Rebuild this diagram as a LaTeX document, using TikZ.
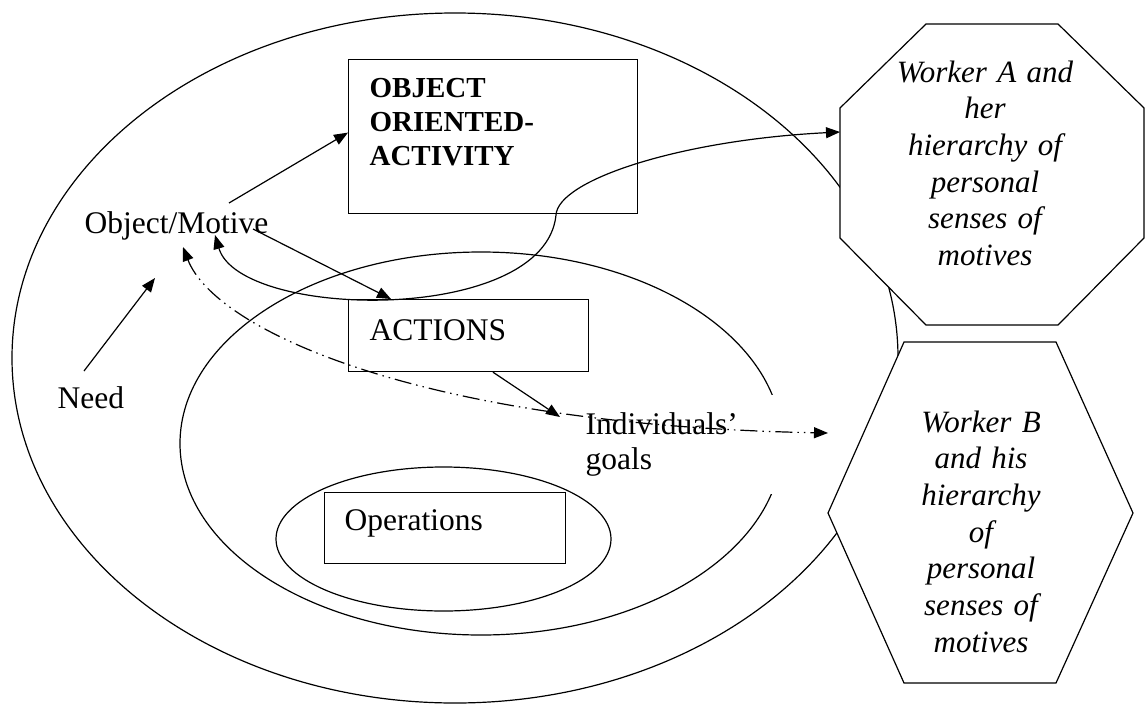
\documentclass[tikz,border=0pt]{standalone}
\usepackage{fontspec}
\setmainfont{Liberation Serif}
\usetikzlibrary{arrows.meta,calc}

\begin{document}
\begin{tikzpicture}[x=1pt, y=-1pt, line width=1.2pt,
    arr/.style={-{Triangle[length=14pt,width=11pt]}},
    twoarr/.style={{Triangle[length=14pt,width=11pt]}-{Triangle[length=14pt,width=11pt]}},
    dashdotdot/.style={dash pattern=on 17pt off 5pt on 1.5pt off 5pt on 1.5pt off 5pt},
    box/.style={draw, fill=white, inner sep=0pt, anchor=north west},
    lbl/.style={font=\fontsize{31.5}{35}\selectfont, inner sep=0pt, anchor=base west, text width=#1, align=left},
    lbl/.default=200pt,
    worker/.style={font=\fontsize{31}{36.7}\selectfont\itshape, inner sep=0pt, anchor=base, text width=230pt, align=center}]

    \useasboundingbox (0,0) rectangle (1147,704);

    % Activity levels
    \draw (455,358) ellipse [x radius=443, y radius=345];
    \draw (481,443.5) ellipse [x radius=301, y radius=191.5];
    \draw (443.5,539) ellipse [x radius=167.5, y radius=72];

    % Boxes
    \node[box, minimum width=289pt, minimum height=154pt] (oa) at (348,59) {};
    \node[lbl, font=\fontsize{29}{34}\selectfont\bfseries] (oa-txt) at (369,97) {OBJECT\\ORIENTED-\\ACTIVITY};
    \node[box, minimum width=240pt, minimum height=72pt] (act) at (348,299) {};
    \node[lbl] (act-txt) at (369,340) {ACTIONS};
    \node[box, minimum width=241pt, minimum height=71pt] (op) at (324,492) {};
    \node[lbl] (op-txt) at (344,530) {Operations};

    % Labels
    \node[lbl] (om) at (84,233) {Object/Motive};
    \node[lbl] (need) at (57,408) {Need};
    \node[lbl, fill=white, inner ysep=18pt] (ig) at (585,434.5) {Individuals'\\goals};

    % Worker A
    \draw[fill=white] (926,24) -- (1058,24) -- (1144,108) -- (1144,238) -- (1058,325) -- (926,325) -- (840,238) -- (840,108) -- cycle;
    \node[worker] (wa) at (985,82) {Worker A and\\her\\hierarchy of\\personal\\senses of\\motives};

    % Worker B
    \draw[fill=white] (904,342) -- (1056,342) -- (1133,513) -- (1056,683) -- (904,683) -- (828,513) -- cycle;
    \node[worker] (wb) at (981,432) {Worker B\\and his\\hierarchy\\of\\personal\\senses of\\motives};

    \coordinate (wa-in) at (840,132);
    \coordinate (wb-in) at (828,433);
    \coordinate (s-bend) at (556,215);

    % Connectors
    \draw[arr] ([shift={(27,-37)}]need.base west) -- ([shift={(71,45)}]om.base west);
    \draw[arr] ([shift={(145,-30)}]om.base west) -- ([shift={(0,-4)}]oa.west);
    \draw[arr] ([shift={(169,-4)}]om.base west) -- ([shift={(43,0)}]act.north west);
    \draw[arr] ([shift={(145,0)}]act.south west) -- ([shift={(-25,-17.5)}]ig.base west);
    \draw[twoarr] ([shift={(131,2)}]om.base west) .. controls +(25,85) and +(-11,110) .. (s-bend)
        .. controls +(2,-35) and +(-160,8) .. (wa-in);
    \draw[twoarr, dashdotdot] ([shift={(99,14)}]om.base west) .. controls +(32,83) and +(-408,-8) .. (wb-in);
\end{tikzpicture}
\end{document}
